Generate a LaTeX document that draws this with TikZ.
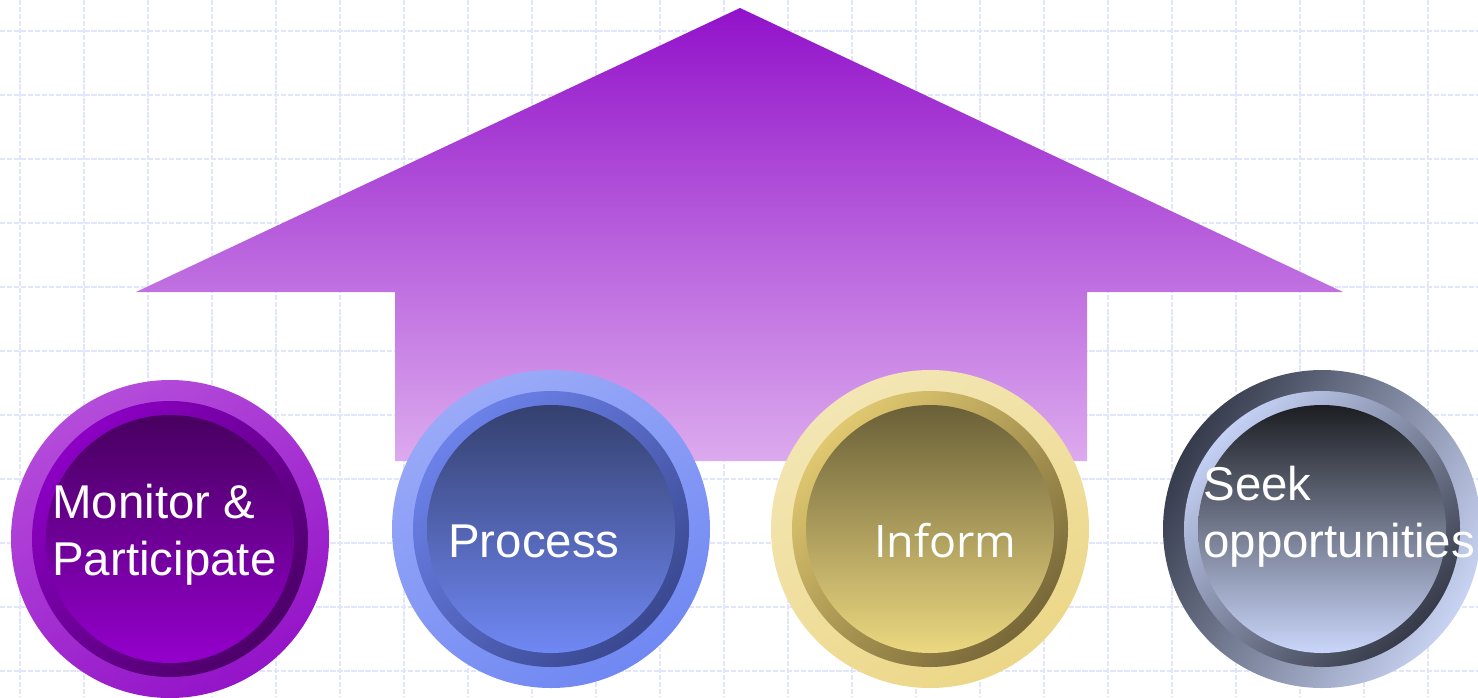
\documentclass[tikz,border=0pt]{standalone}
\usepackage{fontspec}
\setmainfont{Liberation Sans}
\newfontfamily\informfont{Open Sans}
\usepackage{tikz}

\definecolor{gridline}{HTML}{E2E6FA}
\definecolor{arrowtop}{HTML}{9212CA}
\definecolor{arrowbot}{HTML}{DCAAEE}

% one round button: centre, outer ring, middle ring, inner disc (HTML colours)
\newcommand{\roundbutton}[8]{%
	\definecolor{ringA}{HTML}{#2}\definecolor{ringB}{HTML}{#3}%
	\definecolor{midA}{HTML}{#4}\definecolor{midB}{HTML}{#5}%
	\definecolor{discA}{HTML}{#6}\definecolor{discB}{HTML}{#7}%
	\shade[top color=ringA,bottom color=ringB,shading angle=#8] #1 circle[radius=159];
	\shade[top color=midA,bottom color=midB,shading angle=45] #1 circle[radius=138];
	\shade[top color=discA,bottom color=discB] #1 circle[radius=124];
}

\begin{document}
\begin{tikzpicture}[x=0.02cm,y=-0.02cm,
	btntext/.style={text=white,inner sep=0pt,align=left,anchor=base west,
		font=\fontsize{27}{32.3}\selectfont}]
	\useasboundingbox (0,0) rectangle (1478,697);
	\fill[white] (0,0) rectangle (1478,697);
	%
	\foreach \gx in {20,84,...,1478}
		\draw[gridline,line width=0.6pt,dash pattern=on 3pt off 1pt] (\gx,0)--(\gx,697);
	\foreach \gy in {31,95,...,697}
		\draw[gridline,line width=0.6pt,dash pattern=on 3pt off 1pt] (0,\gy)--(1478,\gy);
	%
	\shade[top color=arrowtop,bottom color=arrowbot] (740,8)--(1343,292)--(1087,292)--(1087,461)
		--(395,461)--(395,292)--(136,292)--cycle;
	%
	\roundbutton{(170,539)}{B44CDA}{9414C8}{8C00C4}{4C0068}{480060}{9400CC}{30}
	\roundbutton{(551,529)}{9AAAF8}{7088F2}{6C82EA}{3A4890}{34406E}{7088F4}{30}
	\roundbutton{(930,529)}{F3E6B4}{ECD788}{E0C870}{786838}{6A6038}{ECD880}{30}
	\roundbutton{(1322,529)}{363C4C}{C8D2F2}{C4D0F4}{363A48}{1C1E22}{CAD6FA}{60}
	%
	\node[btntext] (monitor) at (52,575) {Monitor \&\\Participate};
	\node[btntext] (process) at (448,557) {Process};
	\node[btntext,font=\informfont\fontsize{25.5}{32.3}\selectfont] (inform) at (874,557) {Inform};
	\node[btntext] (seek) at (1203,557) {Seek\\opportunities};
\end{tikzpicture}
\end{document}
